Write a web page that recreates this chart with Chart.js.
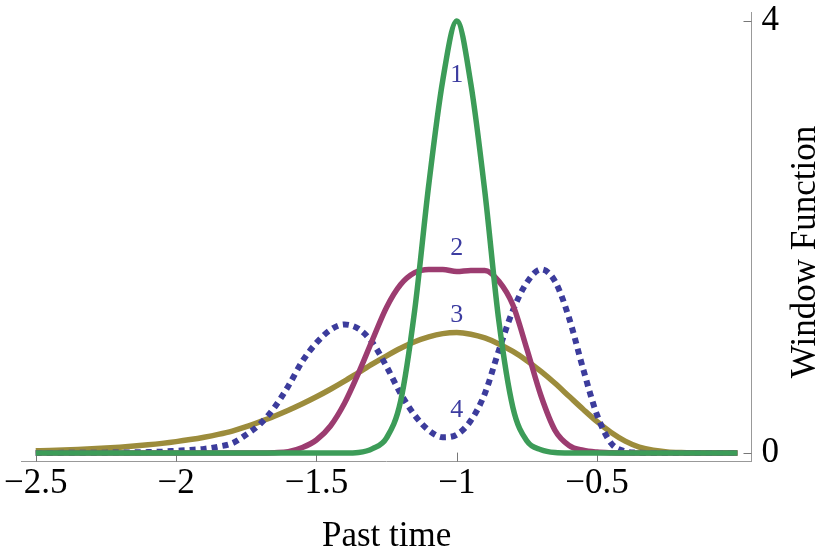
<!DOCTYPE html>
<html><head><meta charset="utf-8">
<script src="https://cdn.jsdelivr.net/npm/chart.js@4.4.0/dist/chart.umd.min.js"></script>
<style>html,body{margin:0;padding:0;background:#fff;}#wrap{width:831px;height:560px;}</style>
</head><body><div id="wrap"><canvas id="c" width="831" height="560"></canvas></div>
<script>
// Past time grid
const pastTime = [-2.5,-2.45,-2.4,-2.35,-2.3,-2.25,-2.2,-2.15,-2.1,-2.05,-2,-1.95,-1.9,-1.85,-1.8,-1.75,-1.7,-1.65,-1.6,-1.55,-1.5,-1.45,-1.4,-1.35,-1.3,-1.25,-1.2,-1.15,-1.1,-1.05,-1,-0.95,-0.9,-0.85,-0.8,-0.75,-0.7,-0.65,-0.6,-0.55,-0.5,-0.45,-0.4,-0.35,-0.3,-0.25,-0.2,-0.15,-0.1,-0.05,0];
// Window function values, curves 1..4
const window1 = [0,0,0,0,0,0,0,0,0,0,0,0,0,0,0,0,0,0,0,0,0,0,0,0.005,0.04,0.14,0.48,1.32,2.48,3.45,4.0,3.42,2.42,1.22,0.42,0.11,0.03,0.004,0,0,0,0,0,0,0,0,0,0,0,0,0];
const window2 = [0,0,0,0,0,0,0,0,0,0,0,0,0,0,0,0,0,0.003,0.012,0.05,0.12,0.25,0.46,0.74,1.05,1.35,1.56,1.67,1.70,1.70,1.68,1.69,1.69,1.59,1.37,0.96,0.53,0.21,0.07,0.025,0.008,0.002,0,0,0,0,0,0,0,0,0];
const window3 = [0.02,0.0236,0.0279,0.0329,0.0388,0.0458,0.054,0.0638,0.0753,0.0889,0.105,0.124,0.146,0.172,0.203,0.243,0.29,0.34,0.395,0.455,0.52,0.59,0.665,0.745,0.825,0.9,0.97,1.03,1.075,1.105,1.115,1.10,1.065,1.01,0.94,0.855,0.755,0.645,0.525,0.405,0.29,0.19,0.11,0.055,0.025,0.01,0.004,0.0015,0.0005,0,0];
const window4 = [0,0,0.001,0.001,0.002,0.003,0.004,0.006,0.008,0.012,0.02,0.028,0.038,0.058,0.09,0.17,0.27,0.42,0.62,0.85,1.02,1.14,1.19,1.15,1.02,0.80,0.55,0.35,0.21,0.145,0.17,0.30,0.55,0.95,1.32,1.58,1.70,1.59,1.25,0.78,0.35,0.09,0.015,0.002,0,0,0,0,0,0,0];
// Ticks
const xTickValues = [-2.5,-2,-1.5,-1,-0.5];
const xTickLabels = ['\u22122.5','\u22122','\u22121.5','\u22121','\u22120.5'];
const yTickValues = [0,4];
const yTickLabels = ['0','4'];
// Curve labels (data coordinates)
const curveLabels = ['1','2','3','4'];
const curveLabelX = [-1,-1,-1,-1];
const curveLabelY = [3.44,1.83,1.21,0.33];

const toPts = ys => pastTime.map((x,i)=>({x:x,y:ys[i]}));
const SERIF = '"Liberation Serif", "Times New Roman", serif';

const extras = {
  id:'extras',
  beforeDatasetsDraw(chart){
    const {ctx, scales:{x,y}, chartArea:a} = chart;
    ctx.save();
    ctx.strokeStyle='#777'; ctx.lineWidth=1;
    xTickValues.forEach(v=>{const px=Math.round(x.getPixelForValue(v))+0.5;ctx.beginPath();ctx.moveTo(px,a.bottom);ctx.lineTo(px,a.bottom-9);ctx.stroke();});
    yTickValues.forEach(v=>{const py=Math.round(y.getPixelForValue(v))+0.5;ctx.beginPath();ctx.moveTo(a.right,py);ctx.lineTo(a.right-8,py);ctx.stroke();});
    ctx.restore();
  },
  afterDraw(chart){
    const {ctx, scales:{x,y}, chartArea:a} = chart;
    ctx.save();
    ctx.fillStyle='rgb(60,60,160)'; ctx.font='26px '+SERIF; ctx.textAlign='center'; ctx.textBaseline='alphabetic';
    curveLabels.forEach((t,i)=>ctx.fillText(t, x.getPixelForValue(curveLabelX[i]), y.getPixelForValue(curveLabelY[i])));
    ctx.fillStyle='#000'; ctx.font='35px '+SERIF;
    ctx.fillText('Past time', (a.left+a.right)/2, 546);
    ctx.translate(806, 252); ctx.rotate(-Math.PI/2); ctx.textBaseline='middle';
    ctx.fillText('Window Function', 0, 0);
    ctx.restore();
  }
};

new Chart(document.getElementById('c'), {
  type:'line',
  data:{datasets:[
    {data:toPts(window1), borderColor:'#3c9c58', borderWidth:5.5},
    {data:toPts(window2), borderColor:'#9c3c70', borderWidth:5.5},
    {data:toPts(window4), borderColor:'#3c3c9c', borderWidth:6, borderDash:[6,5], borderCapStyle:'butt'},
    {data:toPts(window3), borderColor:'#9c8c3c', borderWidth:5.5}
  ]},
  options:{
    responsive:false, animation:false, devicePixelRatio:1,
    layout:{padding:{left:21.7, top:12.4, right:0, bottom:0}},
    elements:{point:{radius:0}, line:{cubicInterpolationMode:'monotone', fill:false}},
    plugins:{legend:{display:false}, tooltip:{enabled:false}},
    scales:{
      x:{type:'linear', min:-2.55, max:0.05,
        afterBuildTicks:s=>{s.ticks=xTickValues.map(v=>({value:v}));},
        ticks:{callback:(v,i)=>xTickLabels[i], font:{family:SERIF,size:35}, color:'#000', padding:1, maxRotation:0, autoSkip:false},
        grid:{display:false, drawTicks:false}, border:{display:true,color:'#999',width:1},
        afterFit:s=>{s.height=98.4; s.paddingLeft=0; s.paddingRight=0;}
      },
      y:{type:'linear', position:'right', min:-0.08, max:4.08,
        afterBuildTicks:s=>{s.ticks=yTickValues.map(v=>({value:v}));},
        ticks:{callback:(v,i)=>yTickLabels[i], font:{family:SERIF,size:35}, color:'#000', padding:10, autoSkip:false},
        grid:{display:false, drawTicks:false}, border:{display:true,color:'#999',width:1},
        afterFit:s=>{s.width=79.5; s.paddingTop=0; s.paddingBottom=0;}
      }
    }
  },
  plugins:[extras]
});
</script></body></html>
